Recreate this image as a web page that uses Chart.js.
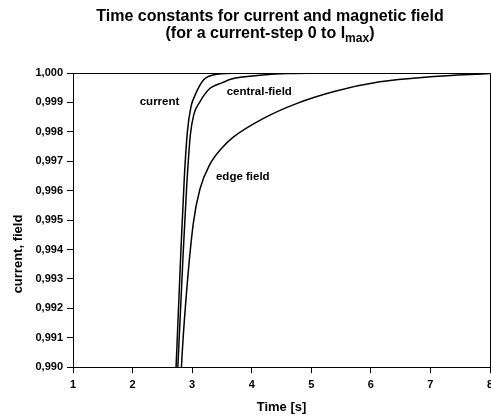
<!DOCTYPE html>
<html>
<head>
<meta charset="utf-8">
<script src="https://cdn.jsdelivr.net/npm/chart.js@4/dist/chart.umd.min.js"></script>
<style>
    html, body { margin: 0; padding: 0; background: #fff; overflow: hidden; }
    #chart { display: block; }
</style>
</head>
<body>
<canvas id="chart" width="500" height="417"></canvas>
<script>
// Normalised response of current and field after a current step

// Series (time in s, normalised value)
const currentTime  = [2.70, 2.73, 2.81, 2.87, 2.92, 2.98, 3.05, 3.19, 3.35, 3.70, 5.00, 8.00];
const currentValue = [0.9884, 0.9900, 0.9939, 0.9965, 0.9980, 0.99885, 0.99925, 0.99976, 0.99993, 0.99999, 1.0, 1.0];

const centralTime  = [2.72, 2.76, 2.85, 2.91, 2.97, 3.03, 3.13, 3.30, 3.52, 3.63, 4.19, 4.60, 5.50, 8.00];
const centralValue = [0.9882, 0.9900, 0.9939, 0.9962, 0.9979, 0.9986, 0.99902, 0.99948, 0.99968, 0.99978, 0.99993, 0.99998, 1.0, 1.0];

const edgeTime  = [2.79, 2.82, 2.90, 3.02, 3.13, 3.30, 3.50, 3.69, 4.19, 4.75, 5.40, 6.15, 7.00, 8.00];
const edgeValue = [0.9885, 0.9900, 0.9924, 0.9949, 0.99605, 0.9969, 0.99745, 0.99782, 0.99845, 0.99896, 0.99938, 0.9997, 0.99987, 0.99998];

// Axis ranges
const xMin = 1, xMax = 8, xStep = 1;
const yMin = 0.990, yMax = 1.000, yStep = 0.001;

// Curve labels, anchored in data units (left edge, middle of text)
const curveLabels = ['current', 'central-field', 'edge field'];
const curveLabelTime = [2.12, 3.58, 3.40];
const curveLabelValue = [0.99903, 0.99937, 0.99648];

const titleLine1 = 'Time constants for current and magnetic field';
const titleLine2 = '(for a current-step 0 to I';
const titleSub = 'max';
const titleEnd = ')';
const yAxisTitle = 'current, field';
const xAxisTitle = 'Time [s]';

const FONT = "'Liberation Sans', Arial, sans-serif";

function toPoints(xs, ys) {
    return xs.map((x, i) => ({ x: x, y: ys[i] }));
}

function curve(label, xs, ys) {
    return {
        label: label,
        data: toPoints(xs, ys),
        borderColor: '#000',
        borderWidth: 1.5,
        pointRadius: 0,
        fill: false,
        cubicInterpolationMode: 'monotone'
    };
}

/**
 * Draws background, frame, titles and curve labels
 */
const decorations = {
    id: 'decorations',
    beforeDraw(chart) {
        const ctx = chart.ctx;
        ctx.save();
        ctx.fillStyle = '#fff';
        ctx.fillRect(0, 0, chart.width, chart.height);
        ctx.restore();
    },
    afterDraw(chart) {
        const ctx = chart.ctx;
        const area = chart.chartArea;
        const xs = chart.scales.x;
        const ys = chart.scales.y;
        ctx.save();

        // top and right frame lines
        ctx.strokeStyle = '#000';
        ctx.lineWidth = 1;
        ctx.beginPath();
        ctx.moveTo(area.left, area.top + 0.5);
        ctx.lineTo(area.right + 0.5, area.top + 0.5);
        ctx.lineTo(area.right + 0.5, area.bottom);
        ctx.stroke();

        // chart title, two lines, second one with subscript
        ctx.fillStyle = '#000';
        ctx.textBaseline = 'alphabetic';
        ctx.textAlign = 'center';
        ctx.font = 'bold 16px ' + FONT;
        ctx.fillText(titleLine1, 270, 21);

        const mainFont = 'bold 16px ' + FONT;
        const subFont = 'bold 12px ' + FONT;
        ctx.font = mainFont;
        const w1 = ctx.measureText(titleLine2).width;
        const w3 = ctx.measureText(titleEnd).width;
        ctx.font = subFont;
        const w2 = ctx.measureText(titleSub).width;
        let x = 270 - (w1 + w2 + w3) / 2;
        ctx.textAlign = 'left';
        ctx.font = mainFont;
        ctx.fillText(titleLine2, x, 37.5);
        x += w1;
        ctx.font = subFont;
        ctx.fillText(titleSub, x, 41.5);
        x += w2;
        ctx.font = mainFont;
        ctx.fillText(titleEnd, x, 37.5);

        // y axis title
        ctx.save();
        ctx.translate(18, 254);
        ctx.rotate(-Math.PI / 2);
        ctx.textAlign = 'center';
        ctx.textBaseline = 'middle';
        ctx.font = 'bold 13px ' + FONT;
        ctx.fillText(yAxisTitle, 0, 0);
        ctx.restore();

        // curve labels
        ctx.textAlign = 'left';
        ctx.textBaseline = 'middle';
        ctx.font = 'bold 11.5px ' + FONT;
        curveLabels.forEach((text, i) => {
            ctx.fillText(text, xs.getPixelForValue(curveLabelTime[i]), ys.getPixelForValue(curveLabelValue[i]));
        });

        ctx.restore();
    }
};

const ctx = document.getElementById('chart');

new Chart(ctx, {
    type: 'line',
    data: {
        datasets: [
            curve('current', currentTime, currentValue),
            curve('central-field', centralTime, centralValue),
            curve('edge field', edgeTime, edgeValue)
        ]
    },
    options: {
        responsive: false,
        animation: false,
        layout: {
            padding: { top: 73, right: 10, bottom: 0, left: 0 }
        },
        plugins: {
            legend: { display: false },
            tooltip: { enabled: false },
            title: { display: false }
        },
        scales: {
            x: {
                type: 'linear',
                min: xMin,
                max: xMax,
                grid: {
                    drawOnChartArea: false,
                    drawTicks: true,
                    tickLength: 6,
                    color: '#000'
                },
                border: { display: true, color: '#000', width: 1 },
                ticks: {
                    stepSize: xStep,
                    color: '#000',
                    padding: 5,
                    maxRotation: 0,
                    font: { family: FONT, size: 11, weight: 'bold' }
                },
                title: {
                    display: true,
                    text: xAxisTitle,
                    color: '#000',
                    padding: { top: 3, bottom: 2 },
                    font: { family: FONT, size: 13, weight: 'bold' }
                }
            },
            y: {
                min: yMin,
                max: yMax,
                afterFit(scale) {
                    scale.width = 73;
                },
                grid: {
                    drawOnChartArea: false,
                    drawTicks: true,
                    tickLength: 6,
                    color: '#000'
                },
                border: { display: true, color: '#000', width: 1 },
                ticks: {
                    stepSize: yStep,
                    color: '#000',
                    padding: 4,
                    font: { family: FONT, size: 11, weight: 'bold' },
                    callback: function(value) {
                        return value.toFixed(3).replace('.', ',');
                    }
                }
            }
        }
    },
    plugins: [decorations]
});
</script>
</body>
</html>
